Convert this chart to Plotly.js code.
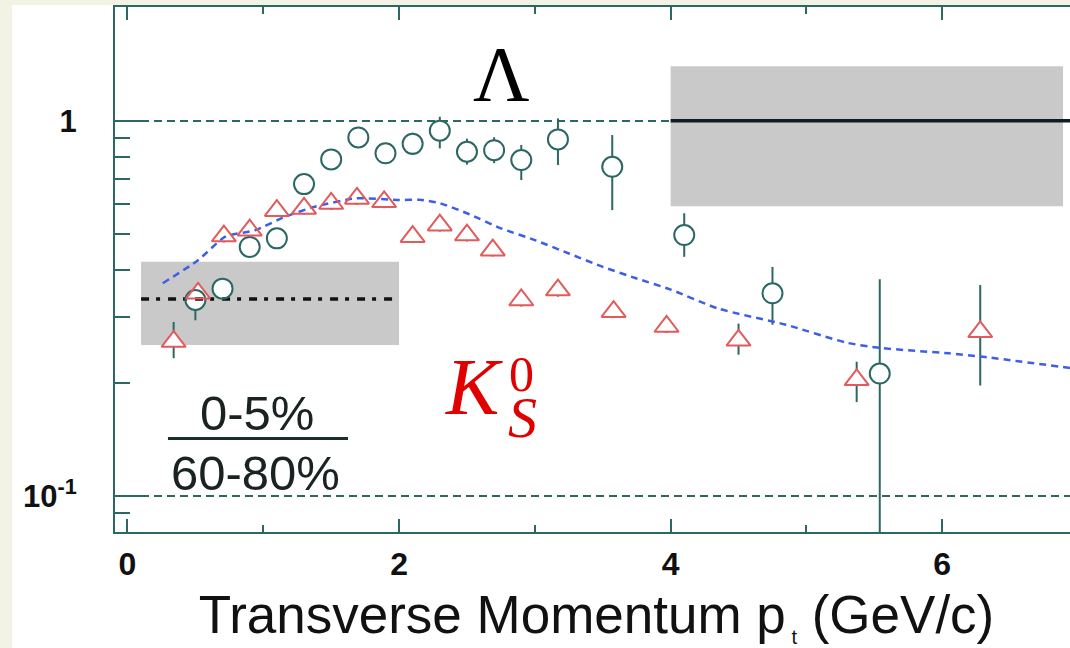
<!DOCTYPE html>
<html><head><meta charset="utf-8">
<script src="https://cdn.plot.ly/plotly-3.0.1.min.js"></script>
<style>
html,body{margin:0;padding:0;width:1070px;height:648px;overflow:hidden;background:#f2f2e5;}
#chart{position:absolute;left:12px;top:5px;width:1070px;height:643px;}
</style></head><body><div id="chart"></div>
<script>
// Lambda ratio (0-5% / 60-80%)
const lamX  = [0.50, 0.70, 0.90, 1.10, 1.30, 1.50, 1.70, 1.90, 2.10, 2.30, 2.50, 2.70, 2.90, 3.17, 3.57, 4.10, 4.75, 5.54];
const lamY  = [0.333, 0.357, 0.461, 0.486, 0.678, 0.789, 0.903, 0.819, 0.868, 0.941, 0.827, 0.835, 0.786, 0.892, 0.754, 0.496, 0.347, 0.212];
const lamHi = [0.354, 0.375, 0.484, 0.510, 0.712, 0.828, 0.948, 0.860, 0.929, 1.025, 0.896, 0.904, 0.862, 1.015, 0.916, 0.567, 0.408, 0.378];
const lamLo = [0.294, 0.340, 0.439, 0.463, 0.646, 0.751, 0.860, 0.780, 0.811, 0.844, 0.764, 0.771, 0.695, 0.762, 0.578, 0.434, 0.286, 0.050];
// K0s ratio
const kX  = [0.34, 0.52, 0.71, 0.90, 1.10, 1.30, 1.50, 1.69, 1.89, 2.10, 2.30, 2.50, 2.69, 2.90, 3.17, 3.58, 3.97, 4.50, 5.37, 6.28];
const kY  = [0.258, 0.347, 0.493, 0.511, 0.576, 0.584, 0.602, 0.621, 0.608, 0.491, 0.527, 0.496, 0.452, 0.333, 0.354, 0.310, 0.283, 0.260, 0.204, 0.274];
const kHi = [0.291, 0.361, 0.513, 0.531, 0.599, 0.607, 0.626, 0.646, 0.632, 0.511, 0.548, 0.516, 0.470, 0.346, 0.368, 0.322, 0.294, 0.288, 0.228, 0.365];
const kLo = [0.233, 0.334, 0.474, 0.491, 0.554, 0.562, 0.579, 0.597, 0.585, 0.472, 0.507, 0.477, 0.435, 0.320, 0.340, 0.298, 0.272, 0.238, 0.178, 0.197];
// model curve (blue dashed)
const curveX = [0.26, 0.52, 0.72, 0.94, 1.16, 1.38, 1.68, 2.00, 2.15, 2.30, 2.50, 2.75, 3.00, 3.25, 3.50, 3.75, 4.00, 4.35, 4.85, 5.30, 5.55, 6.05, 6.30, 7.00];
const curveY = [0.369, 0.425, 0.491, 0.511, 0.555, 0.590, 0.621, 0.615, 0.616, 0.603, 0.567, 0.517, 0.481, 0.443, 0.408, 0.380, 0.355, 0.316, 0.286, 0.256, 0.248, 0.240, 0.235, 0.218];
// normalization uncertainty bands
const kNormX = [0.1, 2.0];   const kNormY = [0.335, 0.335];   const kNormBand = [0.2525, 0.421];
const lamNormX = [4.0, 7.0]; const lamNormY = [1.0, 1.0];     const lamNormBand = [0.592, 1.397];
const lamNormBandX = [4.0, 6.89];
// axis ticks
const xTickVals = [0, 2, 4, 6];
const yTickVals = [0.1, 1];
const yTickText = ['10<sup>-1</sup>', '1'];
const yMinorVals = [0.08, 0.09, 0.2, 0.3, 0.4, 0.5, 0.6, 0.7, 0.8, 0.9, 2];

const teal = '#2c6764';
const red = '#e25a5a';
const diff = (a, b) => a.map((v, i) => v - b[i]);
const lg = v => Math.log10(v);
const yRange = [lg(0.0802), lg(2.01)];

const errTrace = (x, y, hi, lo) => ({
  x: x, y: y, type: 'scatter', mode: 'markers', hoverinfo: 'skip',
  marker: {size: 2, opacity: 0},
  error_y: {type: 'data', symmetric: false, array: diff(hi, y), arrayminus: diff(y, lo),
            color: teal, thickness: 2, width: 0}
});

const data = [
  errTrace(lamX, lamY, lamHi, lamLo),
  errTrace(kX, kY, kHi, kLo),
  {x: lamX, y: lamY, type: 'scatter', mode: 'markers', marker: {symbol: 'circle', size: 20, color: 'white', line: {width: 0}}},
  {x: kX, y: kY, type: 'scatter', mode: 'markers', marker: {symbol: 'triangle-up', size: 21, color: 'white', line: {width: 0}}},
  {x: curveX, y: curveY, type: 'scatter', mode: 'lines', line: {color: '#3d5fe6', width: 2.5, dash: '7px,5px', shape: 'spline', smoothing: 0.6}},
  {x: kNormX, y: kNormY, type: 'scatter', mode: 'lines', line: {color: '#111', width: 3.5, dash: '8px,7px,4px,8px'}},
  {x: lamNormX, y: lamNormY, type: 'scatter', mode: 'lines', line: {color: '#0e1f1f', width: 3.5}},
  {x: lamX, y: lamY, type: 'scatter', mode: 'markers', marker: {symbol: 'circle-open', size: 20, color: teal, line: {width: 2, color: teal}}},
  {x: kX, y: kY, type: 'scatter', mode: 'markers', marker: {symbol: 'triangle-up-open', size: 21, color: red, line: {width: 2, color: red}}}
];

const layout = {
  width: 1070, height: 643,
  margin: {l: 103, r: 4, t: 2, b: 116},
  paper_bgcolor: 'white', plot_bgcolor: 'white',
  showlegend: false,
  font: {family: 'Liberation Sans, Arial, sans-serif', color: '#111'},
  xaxis: {
    range: [-0.092, 7.0], tickmode: 'array', tickvals: xTickVals,
    ticks: 'inside', ticklen: 13, tickwidth: 2, tickcolor: teal,
    minor: {dtick: 1, tick0: 0, ticks: 'inside', ticklen: 7, tickwidth: 2, tickcolor: teal, showgrid: false},
    showline: true, linecolor: teal, linewidth: 2, mirror: 'ticks',
    showgrid: false, zeroline: false,
    tickfont: {size: 32, weight: 'bold', color: '#111'}, ticklabelstandoff: 3,
    title: {text: 'Transverse Momentum p<sub><span style="font-size:20px"> t</span></sub> (GeV/c)',
            font: {size: 53, color: '#111'}, standoff: 18}
  },
  yaxis: {
    type: 'log', range: yRange,
    tickmode: 'array', tickvals: yTickVals, ticktext: yTickText,
    ticks: 'inside', ticklen: 33, tickwidth: 2, tickcolor: teal,
    minor: {tickmode: 'array', tickvals: yMinorVals, ticks: 'inside', ticklen: 15, tickwidth: 2, tickcolor: teal, showgrid: false},
    showline: true, linecolor: teal, linewidth: 2, mirror: false,
    showgrid: true, gridcolor: teal, gridwidth: 1.5, griddash: '8px,5px',
    zeroline: false,
    tickfont: {size: 31, weight: 'bold', color: '#111'}, ticklabelstandoff: 30
  },
  yaxis2: {
    type: 'log', range: yRange, overlaying: 'y', side: 'right', anchor: 'x',
    tickmode: 'array', tickvals: yTickVals, showticklabels: false,
    ticks: 'inside', ticklen: 33, tickwidth: 2, tickcolor: teal,
    minor: {tickmode: 'array', tickvals: yMinorVals, ticks: 'inside', ticklen: 15, tickwidth: 2, tickcolor: teal, showgrid: false},
    showline: false, showgrid: false, zeroline: false
  },
  shapes: [
    {type: 'rect', xref: 'x', yref: 'y', x0: kNormX[0], x1: kNormX[1], y0: kNormBand[0], y1: kNormBand[1],
     fillcolor: '#c9c9c9', line: {width: 0}, layer: 'between'},
    {type: 'rect', xref: 'x', yref: 'y', x0: lamNormBandX[0], x1: lamNormBandX[1], y0: lamNormBand[0], y1: lamNormBand[1],
     fillcolor: '#c9c9c9', line: {width: 0}, layer: 'between'},
    {type: 'line', xref: 'x', yref: 'y', x0: 0.298, x1: 1.624, y0: 0.1424, y1: 0.1424,
     line: {color: '#1d2d2d', width: 3}, layer: 'above'}
  ],
  annotations: [
    {text: 'Λ', x: 2.758, y: lg(1.335), xref: 'x', yref: 'y', showarrow: false,
     font: {family: 'Liberation Serif, serif', size: 78, color: '#000'}, xanchor: 'center', yanchor: 'middle'},
    {text: '<i>K</i>', x: 2.55, y: lg(0.1952), xref: 'x', yref: 'y', showarrow: false,
     font: {family: 'Liberation Serif, serif', size: 80, color: '#e00000'}, xanchor: 'center', yanchor: 'middle'},
    {text: '0', x: 2.904, y: lg(0.2113), xref: 'x', yref: 'y', showarrow: false,
     font: {family: 'Liberation Serif, serif', size: 50, color: '#e00000'}, xanchor: 'center', yanchor: 'middle'},
    {text: '<i>S</i>', x: 2.91, y: lg(0.1619), xref: 'x', yref: 'y', showarrow: false,
     font: {family: 'Liberation Serif, serif', size: 58, color: '#e00000'}, xanchor: 'center', yanchor: 'middle'},
    {text: '0-5%', x: 0.954, y: lg(0.1669), xref: 'x', yref: 'y', showarrow: false,
     font: {size: 49, color: '#1a2222'}, xanchor: 'center', yanchor: 'middle'},
    {text: '60-80%', x: 0.939, y: lg(0.1155), xref: 'x', yref: 'y', showarrow: false,
     font: {size: 49, color: '#1a2222'}, xanchor: 'center', yanchor: 'middle'}
  ]
};

Plotly.newPlot('chart', data, layout, {displayModeBar: false, staticPlot: true});
</script></body></html>
